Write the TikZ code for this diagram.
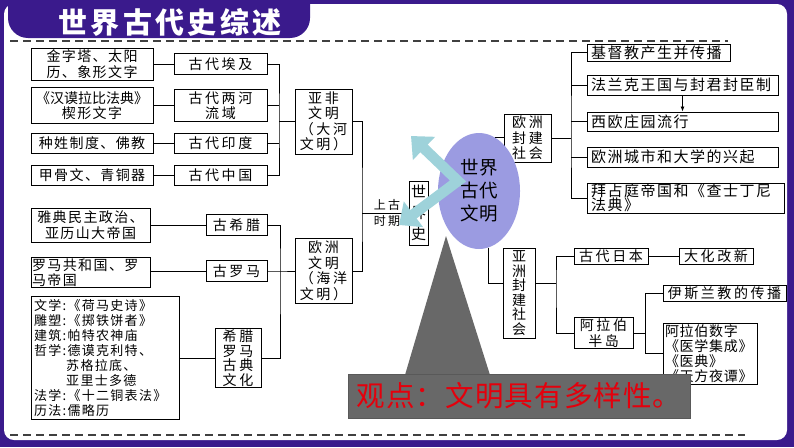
\documentclass[tikz,border=0pt]{standalone}
\usepackage{fontspec}
\usepackage{xcolor}
\usepackage{tikz}
\usetikzlibrary{shapes.geometric}
\usetikzlibrary{arrows.meta}
\setmainfont{Noto Sans CJK SC}
\newfontfamily\cjk{Noto Sans CJK SC}[LetterSpace=10]
\newfontfamily\cjkwide{Noto Sans CJK SC}[LetterSpace=18]
\newfontfamily\cjktight{Noto Sans CJK SC}
\newfontfamily\cjknarrow{Noto Sans CJK SC}[LetterSpace=5]
\newfontfamily\cjkhead{Noto Sans CJK SC}[LetterSpace=12]
\newfontfamily\cjkview{Noto Sans CJK SC}[LetterSpace=4]
\definecolor{framepurple}{RGB}{58,26,140}
\definecolor{ellblue}{RGB}{155,155,225}
\definecolor{arrowcyan}{RGB}{158,210,218}
\definecolor{blockgray}{RGB}{104,104,104}
\definecolor{viewred}{RGB}{228,0,12}
\tikzset{
  box/.style={draw, line width=0.9pt, fill=white, inner sep=1pt, align=center},
  lfont/.style={font=\fontsize{14}{15.5}\selectfont\cjk},
  lwide/.style={font=\fontsize{14}{15.5}\selectfont\cjkwide},
  rbox/.style={box, font=\fontsize{15}{16}\selectfont\cjk, align=left, inner xsep=4pt},
  link/.style={line width=0.8pt},
  cutline/.style={line width=1.8pt, black!75, dash pattern=on 8pt off 5pt}
}

\begin{document}
\begin{tikzpicture}[x=1pt,y=-1pt]
  \useasboundingbox (0,0) rectangle (794,447);%
  % frame and title
  \fill[framepurple] (0,0) rectangle (794,447);%
  \fill[white, rounded corners=10pt] (4,4) rectangle (787,440);%
  \fill[framepurple, rounded corners=20pt] (8,-30) rectangle (310,38);%
  \node[text=white, font=\fontsize{29}{29}\selectfont\bfseries\cjkhead] (title) at (170,22) {世界古代史综述};%
  \draw[cutline] (10,41) -- (728,41);%
  \draw[cutline] (10,435) -- (745,435);%

  % asia and africa
  \node[box, lfont, minimum width=122, minimum height=32] (pyramid) at (92,64) {金字塔、太阳\\历、象形文字};%
  \node[box, lfont, minimum width=122, minimum height=36] (hammurabi) at (92,105.5) {{\cjktight《汉谟拉比法典》}\\楔形文字};%
  \node[box, lfont, minimum width=122, minimum height=20] (caste) at (92,143) {种姓制度、佛教};%
  \node[box, lfont, minimum width=122, minimum height=20] (bronze) at (92,175) {甲骨文、青铜器};%
  \node[box, lwide, minimum width=93, minimum height=21] (egypt) at (220.5,64) {古代埃及};%
  \node[box, lwide, minimum width=93, minimum height=32] (mesopotamia) at (220.5,105.5) {古代两河\\流域};%
  \node[box, lwide, minimum width=93, minimum height=20] (india) at (220.5,143) {古代印度};%
  \node[box, lwide, minimum width=93, minimum height=20] (china) at (220.5,175) {古代中国};%
  \node[box, lwide, minimum width=57, minimum height=65] (afro) at (323.5,121.5) {亚非\\文明\\（大河\\文明）};%
  \draw[link] (pyramid) -- (egypt);%
  \draw[link] (hammurabi) -- (mesopotamia);%
  \draw[link] (caste) -- (india);%
  \draw[link] (bronze) -- (china);%
  \coordinate (afrojoin) at (279,121.5);%
  \draw[link] (egypt.east) -| (afrojoin) |- (china.east);%
  \draw[link] (mesopotamia.east) -- (mesopotamia.east -| afrojoin);%
  \draw[link] (india.east) -- (india.east -| afrojoin);%
  \draw[link] (afrojoin) -- (afro.west);%

  % europe
  \node[box, lfont, minimum width=119, minimum height=34] (athens) at (90.5,225) {雅典民主政治、\\亚历山大帝国};%
  \node[box, lwide, minimum width=61, minimum height=21] (greece) at (236.5,225) {古希腊};%
  \node[box, lfont, text width=117, align=left, minimum height=29] (romrep) at (90.5,272.5) {罗马共和国、罗\\马帝国};%
  \node[box, lwide, minimum width=61, minimum height=21] (rome) at (236.5,271) {古罗马};%
  \node[box, font=\fontsize{13}{15}\selectfont\cjk, text width=142, inner xsep=3pt, align=left, minimum height=123] (classics) at (105,358) {文学:《荷马史诗》\\雕塑:《掷铁饼者》\\建筑:帕特农神庙\\哲学:德谟克利特、\\\phantom{哲学:}苏格拉底、\\\phantom{哲学:}亚里士多德\\法学:《十二铜表法》\\历法:儒略历};%
  \node[box, font=\fontsize{14}{14.5}\selectfont\cjkwide, minimum width=46, minimum height=59] (hellenic) at (238,358) {希腊\\罗马\\古典\\文化};%
  \node[box, lwide, minimum width=57, minimum height=65] (europe) at (323.5,271) {欧洲\\文明\\（海洋\\文明）};%
  \draw[link] (athens) -- (greece);%
  \draw[link] (romrep.east |- rome) -- (rome.west);%
  \draw[link] (classics) -- (hellenic);%
  \coordinate (eurojoin) at (280,271);%
  \draw[link] (greece.east) -| (eurojoin) |- (hellenic.east);%
  \draw[link] (rome.east) -- (eurojoin) -- (europe.west);%

  % world history
  \node[box, font=\fontsize{15}{21}\selectfont\cjk, minimum width=19, minimum height=64, inner sep=0pt] (worldhist) at (418.5,213) {世\\界\\史};%
  \node[font=\fontsize{12}{16}\selectfont\cjkwide, inner sep=0pt, align=center] (ancient) at (387,213) {上古\\时期};%
  \coordinate (mainjoin) at (362,213);%
  \draw[link] (afro.east) -| (mainjoin) |- (europe.east);%
  \draw[link] (mainjoin) -- (worldhist.west);%

  % feudal europe
  \node[box, lwide, minimum width=47, minimum height=48] (eufeudal) at (527.5,138) {欧洲\\封建\\社会};%
  \node[rbox, text width=135, minimum height=17] (christian) at (658.5,52.5) {基督教产生并传播};%
  \node[rbox, text width=183, minimum height=20] (frankish) at (682.5,85) {法兰克王国与封君封臣制};%
  \node[rbox, text width=183, minimum height=19] (manor) at (682.5,121.5) {西欧庄园流行};%
  \node[rbox, text width=183, minimum height=20] (cities) at (682.5,157) {欧洲城市和大学的兴起};%
  \node[rbox, font=\fontsize{15}{14}\selectfont\cjk, text width=189, minimum height=30] (byzantium) at (685.5,198) {拜占庭帝国和《查士丁尼\\法典》};%
  \coordinate (eujoin) at (571,138);%
  \draw[link] (eufeudal.east) -- (eujoin);%
  \draw[link] (christian.west) -| (eujoin) |- (byzantium.west);%
  \draw[link] (frankish.west) -- (frankish.west -| eujoin);%
  \draw[link] (manor.west) -- (manor.west -| eujoin);%
  \draw[link] (cities.west) -- (cities.west -| eujoin);%
  \draw[link, -{Latex[length=5pt,width=4pt]}] (frankish) -- (manor);%

  % feudal asia
  \node[box, font=\fontsize{14}{14.5}\selectfont\cjk, minimum width=32, minimum height=90] (asfeudal) at (519,293) {亚\\洲\\封\\建\\社\\会};%
  \node[box, lwide, minimum width=74, minimum height=16, inner sep=0.5pt] (japan) at (611,256) {古代日本};%
  \node[box, lwide, minimum width=74, minimum height=16, inner sep=0.5pt] (taika) at (716,256) {大化改新};%
  \node[box, lwide, minimum width=59, minimum height=31] (arabia) at (603.5,333) {阿拉伯\\半岛};%
  \node[box, lwide, minimum width=123, minimum height=16, inner sep=0.5pt] (islam) at (724.5,293) {伊斯兰教的传播};%
  \node[box, font=\fontsize{14}{15}\selectfont\cjknarrow, text width=90, inner xsep=2pt, align=left, minimum height=61] (arabsci) at (710,353.5) {阿拉伯数字\\《医学集成》\\《医典》\\《天方夜谭》};%
  \coordinate (asjoin) at (556,283);%
  \draw[link] ([yshift=10pt]asfeudal.east) -- (asjoin);%
  \draw[link] (japan.west) -| (asjoin) |- (arabia.west);%
  \draw[link] (japan) -- (taika);%
  \coordinate (arjoin) at (645,333);%
  \draw[link] (arabia.east) -- (arjoin);%
  \draw[link] (islam.west) -| (arjoin) |- (arabsci.west);%

  % centre
  \node[ellipse, fill=ellblue, minimum width=82, minimum height=116, inner sep=0pt, font=\fontsize{18.5}{23}\selectfont\cjktight, align=center] (civil) at (479,191) {世界\\古代\\文明};%
  \draw[link] (civil.73) -- (civil.73 -| eufeudal.west);%
  \draw[link] (civil.-81) |- ([yshift=10pt]asfeudal.west);%
  \coordinate (arrvertex) at (458,181);%
  \coordinate (arrup) at (411,136);%
  \coordinate (arrdown) at (399,225);%
  \draw[arrowcyan, line width=10.5pt, line join=miter, {Triangle[length=18pt,width=31pt]}-{Triangle[length=18pt,width=31pt]}] (arrup) -- (arrvertex) -- (arrdown);%

  % view
  \fill[blockgray] (446,236) -- (490,375) -- (405,375) -- cycle;%
  \node[fill=blockgray, draw=black!65, minimum width=342, minimum height=44, text=viewred, font=\fontsize{28.5}{28.5}\selectfont\cjkview] (view) at (519,396) {观点：文明具有多样性。};%
\end{tikzpicture}
\end{document}
